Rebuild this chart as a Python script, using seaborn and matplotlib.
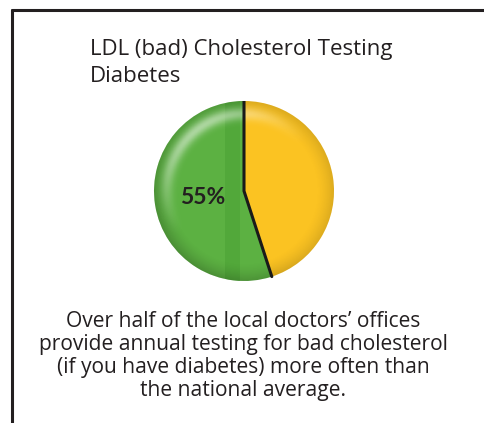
import matplotlib
matplotlib.use("Agg")
import matplotlib.pyplot as plt
import numpy as np
import seaborn as sns
from matplotlib.lines import Line2D
from matplotlib.patches import Circle, Rectangle

# data
categories = ["Local offices above national average", "Other"]
shares = [55, 45]
slice_colors = ["#5cb142", "#fbc322"]
title_lines = ["LDL (bad) Cholesterol Testing", "Diabetes"]
caption_lines = [
    "Over half of the local doctors\u2019 offices",
    "provide annual testing for bad cholesterol",
    "(if you have diabetes) more often than",
    "the national average.",
]

W, H = 485, 423
sns.set_theme(style="white")
plt.rcParams["font.family"] = ["Open Sans", "DejaVu Sans"]

fig = plt.figure(figsize=(W / 100, H / 100), dpi=100)
fig.patch.set_facecolor("white")

# pie axes, centred at (244, 191) px with radius 90 px
cx, cy, r = 244, 191, 90
ax = fig.add_axes([(cx - r) / W, (H - cy - r) / H, 2 * r / W, 2 * r / H])
wedges, texts, autotexts = ax.pie(
    shares,
    colors=slice_colors,
    startangle=90,
    counterclock=True,
    autopct=lambda p: f"{p:.0f}%" if p > 50 else "",
    pctdistance=0.47,
    wedgeprops={"linewidth": 0},
    textprops={"fontsize": 16.5, "fontweight": "bold", "color": "#231f20",
               "family": ["Lato", "DejaVu Sans"]},
)
ax.set_xlim(-1, 1)
ax.set_ylim(-1, 1)
ax.set_aspect("equal")
ax.axis("off")

# darker band just left of the top divider, kept inside the green slice
band = Rectangle((-0.21, -1), 0.17, 2, facecolor="#2f8a22", alpha=0.22, lw=0, zorder=2.5)
ax.add_patch(band)
band.set_clip_path(wedges[0])

# soft 3D shading clipped to the disc
n = 300
xx, yy = np.meshgrid(np.linspace(-1, 1, n), np.linspace(1, -1, n))
rr = np.sqrt(xx ** 2 + yy ** 2)
ang = np.arctan2(yy, xx)
shade = np.zeros((n, n, 4))
edge = np.clip((rr - 0.80) / 0.20, 0, 1) ** 1.5
shade[..., 3] = 0.2 * edge * (0.6 + 0.4 * np.clip(-np.sin(ang + np.pi / 4), 0, 1))
rim = np.exp(-((rr - 0.86) ** 2) / 0.005) * np.clip(np.cos(ang - 2.2), 0, 1) ** 1.5
light = np.zeros((n, n, 4))
light[..., :3] = 1.0
light[..., 3] = 0.5 * rim
disc = Circle((0, 0), 1.0, transform=ax.transData)
for layer in (shade, light):
    im = ax.imshow(layer, extent=(-1, 1, -1, 1), zorder=3, interpolation="bilinear")
    im.set_clip_path(disc)

# divider between the slices, derived from the shares
start = np.deg2rad(90)
end = start + 2 * np.pi * shares[0] / sum(shares)
ax.plot([np.cos(start), 0, np.cos(end)], [np.sin(start), 0, np.sin(end)],
        color="#1a1a1a", lw=2.2, zorder=4, solid_joinstyle="miter")
for t in autotexts:
    t.set_zorder(5)

# frame: top and left rules
fig.add_artist(Line2D([12 / W, 1.0], [1 - 10 / H, 1 - 10 / H], color="#231f20", lw=2.2))
fig.add_artist(Line2D([12 / W, 12 / W], [0.0, 1 - 10 / H], color="#231f20", lw=2.2))

# title
fig.text(90 / W, 1 - 50 / H, title_lines[0], fontsize=16, color="#231f20", va="center")
fig.text(90 / W, 1 - 76 / H, title_lines[1], fontsize=16, color="#231f20", va="center")

# caption
for i, line in enumerate(caption_lines):
    fig.text(243 / W, 1 - (321 + i * 23.3) / H, line, fontsize=15.1, color="#231f20",
             ha="center", va="center")

fig.savefig("out.png", dpi=100)
